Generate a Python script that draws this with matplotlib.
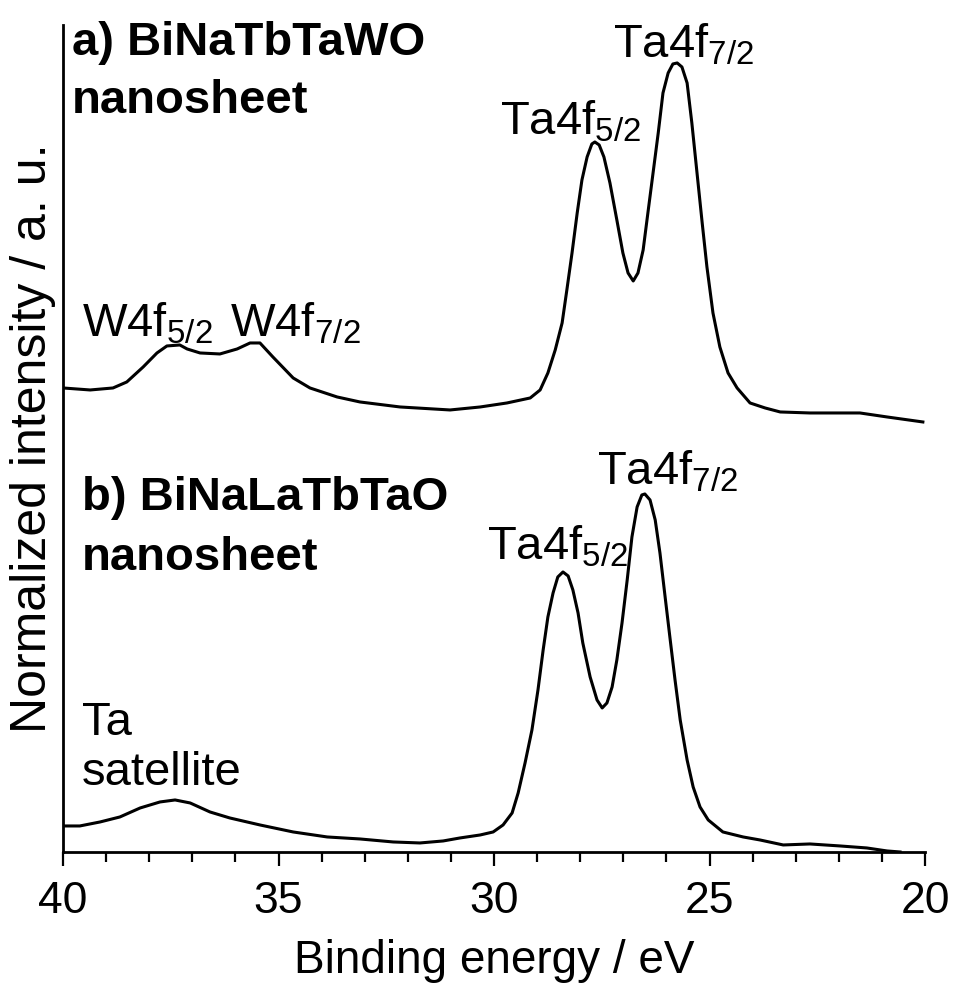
import numpy as np
import matplotlib.pyplot as plt
from matplotlib.ticker import MultipleLocator

plt.rcParams['font.family'] = ['Liberation Sans', 'DejaVu Sans']
plt.rcParams['mathtext.fontset'] = 'custom'
plt.rcParams['mathtext.rm'] = 'Liberation Sans'
plt.rcParams['mathtext.it'] = 'Liberation Sans:italic'
plt.rcParams['mathtext.bf'] = 'Liberation Sans:bold'

# a) BiNaTbTaWO nanosheet (binding energy in eV, normalized intensity with offset)
energy_a = [40.00, 39.37, 38.84, 38.52, 38.14, 37.82, 37.59, 37.29, 37.12, 36.82,
            36.36, 35.96, 35.66, 35.43, 35.13, 34.66, 34.27, 33.64, 33.11, 32.18,
            31.02, 30.32, 29.70, 29.16, 28.93, 28.75, 28.58, 28.42, 28.31, 28.19,
            28.07, 27.96, 27.84, 27.73, 27.66, 27.56, 27.45, 27.31, 27.15, 27.01,
            26.89, 26.77, 26.66, 26.54, 26.43, 26.31, 26.19, 26.08, 25.96, 25.85,
            25.75, 25.64, 25.52, 25.41, 25.29, 25.17, 25.06, 24.92, 24.76, 24.57,
            24.36, 24.06, 23.71, 23.36, 22.67, 21.51, 20.88, 20.05]
int_a = [4.64, 4.62, 4.64, 4.70, 4.85, 4.99, 5.06, 5.07, 5.03, 4.99,
         4.98, 5.03, 5.09, 5.09, 4.95, 4.74, 4.64, 4.55, 4.50, 4.45,
         4.42, 4.45, 4.49, 4.54, 4.62, 4.79, 5.02, 5.29, 5.62, 5.99,
         6.39, 6.72, 6.95, 7.08, 7.10, 7.07, 6.95, 6.69, 6.32, 5.99,
         5.79, 5.71, 5.79, 6.02, 6.39, 6.79, 7.19, 7.59, 7.79, 7.88,
         7.89, 7.85, 7.69, 7.29, 6.79, 6.29, 5.85, 5.39, 5.05, 4.79,
         4.64, 4.49, 4.44, 4.40, 4.39, 4.39, 4.35, 4.30]

# b) BiNaLaTbTaO nanosheet
energy_b = [40.00, 39.61, 39.14, 38.68, 38.21, 37.75, 37.40, 37.05, 36.59, 36.13,
            35.43, 34.66, 33.87, 33.11, 32.34, 31.72, 31.18, 30.79, 30.32, 30.02,
            29.79, 29.58, 29.44, 29.28, 29.12, 28.98, 28.86, 28.75, 28.63, 28.52,
            28.40, 28.28, 28.17, 28.05, 27.94, 27.77, 27.61, 27.49, 27.38, 27.26,
            27.15, 27.03, 26.91, 26.80, 26.68, 26.57, 26.50, 26.38, 26.26, 26.15,
            26.03, 25.92, 25.80, 25.68, 25.52, 25.38, 25.22, 25.03, 24.69, 24.22,
            23.83, 23.29, 22.67, 21.97, 21.35, 20.88, 20.58]
int_b = [0.26, 0.26, 0.30, 0.35, 0.44, 0.50, 0.52, 0.49, 0.40, 0.34,
         0.27, 0.20, 0.15, 0.13, 0.10, 0.09, 0.11, 0.14, 0.17, 0.20,
         0.27, 0.39, 0.59, 0.89, 1.22, 1.62, 2.02, 2.35, 2.59, 2.75,
         2.80, 2.76, 2.62, 2.39, 2.09, 1.75, 1.52, 1.44, 1.49, 1.65,
         1.92, 2.29, 2.72, 3.15, 3.45, 3.57, 3.58, 3.52, 3.32, 2.99,
         2.55, 2.15, 1.72, 1.32, 0.92, 0.65, 0.45, 0.32, 0.20, 0.15,
         0.12, 0.07, 0.08, 0.06, 0.04, 0.01, 0.00]

fig = plt.figure(figsize=(9.56, 9.91), dpi=100)
ax = fig.add_axes([0.0659, 0.1403, 0.9017, 0.8345])

ax.plot(energy_a, int_a, color='black', lw=2.2, solid_joinstyle='round')
ax.plot(energy_b, int_b, color='black', lw=2.2, solid_joinstyle='round')

ax.set_xlim(40, 20)
ax.set_ylim(0, 8.27)
ax.xaxis.set_major_locator(MultipleLocator(5))
ax.xaxis.set_minor_locator(MultipleLocator(1))
ax.set_yticks([])
ax.spines['top'].set_visible(False)
ax.spines['right'].set_visible(False)
ax.spines['left'].set_linewidth(2)
ax.spines['bottom'].set_linewidth(2)
ax.tick_params(axis='x', which='major', direction='out', length=10, width=1.6,
               labelsize=32, pad=11)
ax.tick_params(axis='x', which='minor', direction='out', length=7, width=1.6)

fig.text(0.517, 1 - 973 / 991, 'Binding energy / eV', fontsize=33,
         ha='center', va='baseline')
fig.text(0.0345, 0.558, 'Normalized intensity / a. u.', rotation=90,
         fontsize=36, ha='center', va='center')

fs = 34
ax.text(39.79, 7.97, 'a) BiNaTbTaWO', fontsize=fs, fontweight='bold', va='baseline')
ax.text(39.79, 7.39, 'nanosheet', fontsize=fs, fontweight='bold', va='baseline')
ax.text(27.24, 7.94, r'Ta4f$_\mathrm{7/2}$', fontsize=fs, va='baseline')
ax.text(29.86, 7.17, r'Ta4f$_\mathrm{5/2}$', fontsize=fs, va='baseline')
ax.text(39.56, 5.15, r'W4f$_\mathrm{5/2}$', fontsize=fs, va='baseline')
ax.text(36.13, 5.15, r'W4f$_\mathrm{7/2}$', fontsize=fs, va='baseline')

ax.text(39.56, 3.42, 'b) BiNaLaTbTaO', fontsize=fs, fontweight='bold', va='baseline')
ax.text(39.56, 2.82, 'nanosheet', fontsize=fs, fontweight='bold', va='baseline')
ax.text(27.61, 3.67, r'Ta4f$_\mathrm{7/2}$', fontsize=fs, va='baseline')
ax.text(30.16, 2.92, r'Ta4f$_\mathrm{5/2}$', fontsize=fs, va='baseline')
ax.text(39.56, 1.17, 'Ta', fontsize=fs, va='baseline')
ax.text(39.56, 0.67, 'satellite', fontsize=fs, va='baseline')

fig.savefig('out.png', dpi=100)
